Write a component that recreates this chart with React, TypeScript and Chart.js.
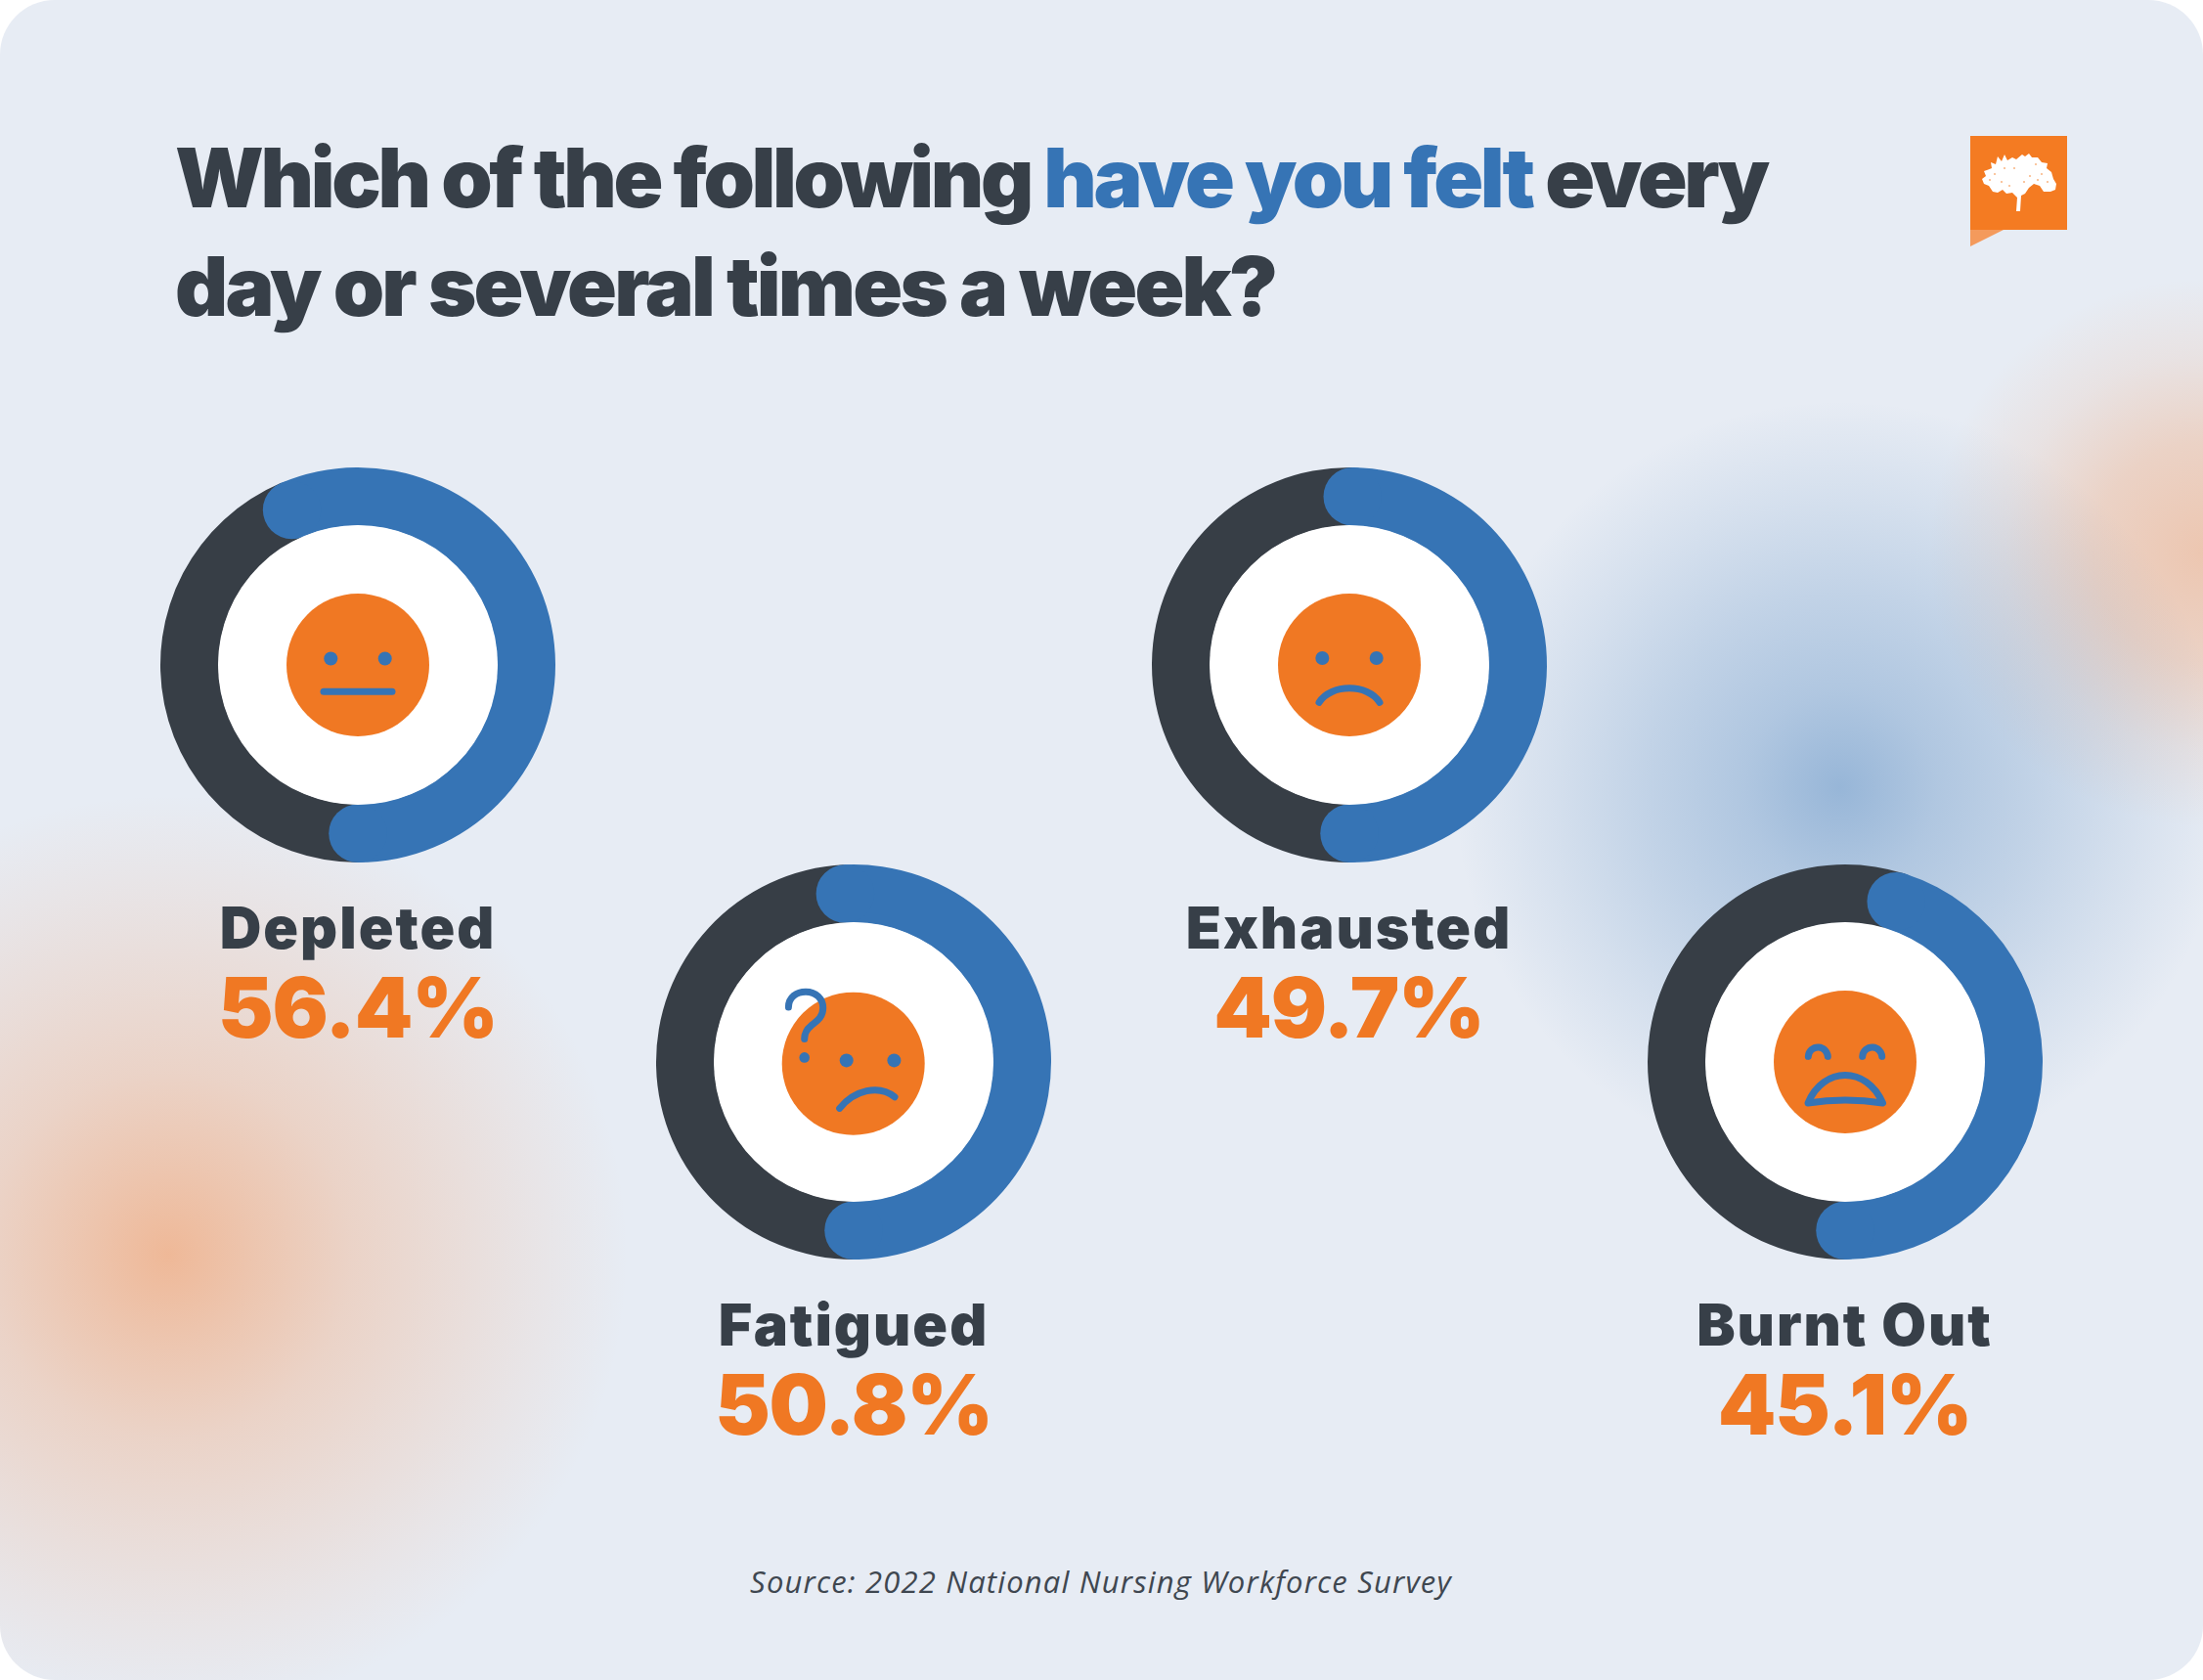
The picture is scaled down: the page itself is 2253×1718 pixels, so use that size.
import React, { useEffect, useRef } from "react";
import { Chart, registerables } from "chart.js";

Chart.register(...registerables);

const categories = ["Depleted", "Fatigued", "Exhausted", "Burnt Out"];
const feltValues = [56.4, 50.8, 49.7, 45.1];
const faceKinds = ["neutral", "confused", "sad", "tired"];

const BLUE = "#3674b5";
const DARK = "#373e46";
const ORANGE = "#f07823";
const RING = 202;
const CUT = 142.5;
const centers = [
  [366, 680],
  [873, 1086],
  [1379.5, 680],
  [1886.5, 1086],
];

function drawFace(ctx: CanvasRenderingContext2D, x: number, y: number, kind: string) {
  ctx.save();
  ctx.translate(x, y);
  ctx.fillStyle = "#ffffff";
  ctx.beginPath();
  ctx.arc(0, 0, CUT + 0.5, 0, Math.PI * 2);
  ctx.fill();
  ctx.fillStyle = ORANGE;
  ctx.beginPath();
  ctx.arc(kind === "confused" ? -0.3 : 0, kind === "confused" ? 1.7 : 0, 73, 0, Math.PI * 2);
  ctx.fill();
  ctx.strokeStyle = BLUE;
  ctx.fillStyle = BLUE;
  ctx.lineWidth = 7;
  ctx.lineCap = "round";
  ctx.lineJoin = "round";
  const dot = (a: number, b: number, r = 7) => {
    ctx.beginPath();
    ctx.arc(a, b, r, 0, Math.PI * 2);
    ctx.fill();
  };
  if (kind === "neutral") {
    dot(-27.7, -6.5);
    dot(27.7, -6.5);
    ctx.beginPath();
    ctx.moveTo(-35, 27.3);
    ctx.lineTo(35, 27.3);
    ctx.stroke();
  } else if (kind === "sad") {
    dot(-27.7, -7);
    dot(27.7, -7);
    ctx.beginPath();
    ctx.moveTo(-31, 38.3);
    ctx.bezierCurveTo(-19, 19, 19, 19, 31, 38.3);
    ctx.stroke();
  } else if (kind === "confused") {
    ctx.translate(-0.3, 1.7);
    dot(-7, -3.3);
    dot(41.7, -3.3);
    ctx.beginPath();
    ctx.moveTo(-14, 45.7);
    ctx.bezierCurveTo(1, 27, 26, 21, 42.3, 34);
    ctx.stroke();
    ctx.beginPath();
    ctx.moveTo(-66.3, -57.7);
    ctx.bezierCurveTo(-66.3, -68, -58, -73.5, -48.7, -73.5);
    ctx.bezierCurveTo(-38, -73.5, -31, -66, -31, -57);
    ctx.bezierCurveTo(-31, -47, -38, -43, -43, -39);
    ctx.bezierCurveTo(-48, -35, -50, -31, -50, -25.3);
    ctx.stroke();
    dot(-50, -6.3, 5.3);
  } else {
    for (const s of [-1, 1]) {
      ctx.beginPath();
      ctx.arc(s * 27.7, -5, 10, Math.PI * 1.02, Math.PI * 1.98);
      ctx.stroke();
    }
    ctx.beginPath();
    ctx.moveTo(-38, 42);
    ctx.bezierCurveTo(-22, 4, 22, 4, 38.5, 42);
    ctx.quadraticCurveTo(0, 36, -38, 42);
    ctx.closePath();
    ctx.stroke();
  }
  ctx.restore();
}

const capsAndFace = {
  id: "capsAndFace",
  afterDatasetsDraw(chart: any, _args: any, opts: any) {
    const ctx = chart.ctx as CanvasRenderingContext2D;
    const arc = chart.getDatasetMeta(0).data[1];
    const { x, y, startAngle, endAngle, innerRadius, outerRadius } = arc.getProps([
      "x", "y", "startAngle", "endAngle", "innerRadius", "outerRadius",
    ]);
    const mid = (innerRadius + outerRadius) / 2;
    const r = (outerRadius - innerRadius) / 2;
    ctx.save();
    ctx.fillStyle = BLUE;
    for (const a of [startAngle, endAngle]) {
      ctx.beginPath();
      ctx.arc(x + Math.cos(a) * mid, y + Math.sin(a) * mid, r, 0, Math.PI * 2);
      ctx.fill();
    }
    ctx.restore();
    drawFace(ctx, x, y, opts.kind);
  },
};

function Ring({ index }: { index: number }) {
  const ref = useRef<HTMLCanvasElement>(null);
  useEffect(() => {
    const chart = new Chart(ref.current as HTMLCanvasElement, {
      type: "doughnut",
      data: {
        labels: ["Other", categories[index]],
        datasets: [
          {
            data: [100 - feltValues[index], feltValues[index]],
            backgroundColor: [DARK, BLUE],
            borderWidth: 0,
          },
        ],
      },
      options: {
        responsive: false,
        animation: false,
        devicePixelRatio: 1,
        rotation: 180,
        cutout: `${(CUT / RING) * 100}%`,
        layout: { padding: 2 },
        plugins: {
          legend: { display: false },
          tooltip: { enabled: false },
          capsAndFace: { kind: faceKinds[index] },
        },
      } as any,
      plugins: [capsAndFace as any],
    });
    return () => chart.destroy();
  }, [index]);
  const [cx, cy] = centers[index];
  const size = RING * 2 + 4;
  return (
    <canvas
      ref={ref}
      width={size}
      height={size}
      style={{ position: "absolute", left: cx - size / 2, top: cy - size / 2, width: size, height: size }}
    />
  );
}

const base: React.CSSProperties = { position: "absolute", whiteSpace: "nowrap", lineHeight: 1, margin: 0 };

function Centered({ x, baseline, size, color, spacing, weight, children }: any) {
  return (
    <div
      style={{
        ...base,
        left: x - 500,
        width: 1000,
        textAlign: "center",
        top: baseline - size * 0.86,
        fontFamily: "Inter, sans-serif",
        fontWeight: weight,
        fontSize: size,
        color,
        letterSpacing: spacing,
      }}
    >
      {children}
    </div>
  );
}

const treePath =
  "M2027 183 L2031 180 L2029 175 L2037 172 L2036 166 L2041 168 L2043 160 L2047 165 L2050 158 L2053 164 L2058 161 L2062 163 L2068 158 L2071 160 L2075 157 L2078 161 L2084 161 L2088 166 L2094 167 L2093 172 L2098 176 L2100 183 L2103 188 L2102 194 L2097 196 L2090 196 L2086 190 L2080 188 L2075 192 L2071 198 L2067 200 L2066 216 L2062 216 L2063 202 L2058 197 L2052 198 L2048 194 L2043 197 L2038 196 L2034 190 L2029 188 Z";
const treeSpecks = [
  [2040, 178], [2047, 186], [2055, 190], [2082, 168], [2088, 178], [2094, 186], [2070, 186], [2076, 180], [2035, 184], [2060, 172], [2084, 184], [2050, 172],
];

export default function App() {
  useEffect(() => {
    document.body.style.margin = "0";
  }, []);
  const titleBase: React.CSSProperties = {
    ...base,
    fontFamily: "Inter, sans-serif",
    fontWeight: 900,
    fontSize: 84,
    color: "#373f48",
    letterSpacing: -3.35,
  };
  return (
    <div style={{ position: "absolute", left: 0, top: 0, width: 2253, height: 1718, background: "#ffffff", overflow: "hidden" }}>
      <div
        style={{
          position: "absolute",
          inset: 0,
          borderRadius: 56,
          overflow: "hidden",
          backgroundColor: "#e7ecf4",
          backgroundImage: [
            "radial-gradient(circle 470px at 172px 1283px, rgba(244,150,90,.6) 0%, rgba(244,150,90,.44) 20%, rgba(244,150,90,.29) 40%, rgba(244,150,90,.19) 60%, rgba(244,150,90,.09) 80%, rgba(244,150,90,0) 100%)",
            "radial-gradient(circle 395px at 1882px 805px, rgba(54,116,181,.45) 0%, rgba(54,116,181,.31) 25%, rgba(54,116,181,.21) 50%, rgba(54,116,181,.1) 75%, rgba(54,116,181,0) 100%)",
            "radial-gradient(circle 280px at 2253px 565px, rgba(244,150,90,.44) 0%, rgba(244,150,90,.3) 40%, rgba(244,150,90,.11) 72%, rgba(244,150,90,0) 100%)",
          ].join(","),
        }}
      />
      <div style={{ ...titleBase, left: 179, top: 140 }}>
        Which of the following <span style={{ color: BLUE }}>have you felt</span> every
      </div>
      <div style={{ ...titleBase, left: 179, top: 251, letterSpacing: -2.8 }}>day or several times a week?</div>

      <svg width={2253} height={1718} style={{ position: "absolute", left: 0, top: 0 }}>
        <rect x={2015} y={139} width={99} height={96} fill="#f47b22" />
        <polygon points="2015,235 2049,235 2015,252" fill="#f49a5c" />
        <path d={treePath} fill="#ffffff" />
        {treeSpecks.map(([x, y]) => (
          <circle key={`${x}-${y}`} cx={x} cy={y} r={1.1} fill="#f9b98a" />
        ))}
      </svg>

      {categories.map((c, i) => {
        const dy = centers[i][1] - 680;
        return (
          <React.Fragment key={c}>
            <Ring index={i} />
            <Centered x={centers[i][0]} baseline={970 + dy} size={59} color="#373f48" weight={900} spacing={2}>
              {c}
            </Centered>
            <Centered x={centers[i][0]} baseline={1061 + dy} size={85} color={ORANGE} weight={900} spacing={-1.2}>
              {feltValues[i].toFixed(1)}%
            </Centered>
          </React.Fragment>
        );
      })}

      <div
        style={{
          ...base,
          left: 626,
          width: 1000,
          textAlign: "center",
          top: 1602,
          fontFamily: "'Open Sans', sans-serif",
          fontStyle: "italic",
          fontWeight: 400,
          fontSize: 31,
          letterSpacing: 1.17,
          color: "#3f4750",
        }}
      >
        Source: 2022 National Nursing Workforce Survey
      </div>
    </div>
  );
}
